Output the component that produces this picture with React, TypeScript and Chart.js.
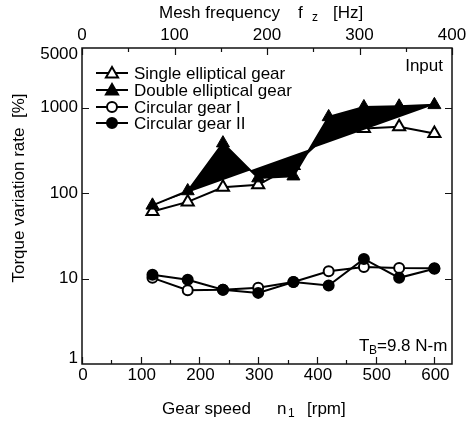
import React, { useEffect, useRef } from "react";
import { Chart, registerables } from "chart.js";

Chart.register(...registerables);

const gearSpeed = [120, 180, 240, 300, 360, 420, 480, 540, 600];
const singleElliptical = [61, 79, 117, 125, 210, 500, 570, 600, 500];
const doubleElliptical = [72, 106, 385, 150, 158, 780, 1020, 1040, 1080];
const circularI = [10.2, 7.3, 7.4, 7.8, 9.1, 12.2, 13.7, 13.3, 13.2];
const circularII = [11.1, 9.7, 7.4, 6.8, 9.1, 8.3, 17, 10.2, 13.0];

const seriesNames = [
  "Single elliptical gear",
  "Double elliptical gear",
  "Circular gear I",
  "Circular gear II",
];

const yTickValues = [1, 10, 100, 1000, 5000];
const yInnerTickValues = [10, 100, 1000];
const xTickValues = [0, 100, 200, 300, 400, 500, 600];
const xMinorTickValues = [50, 150, 250, 350, 450, 550];
const topTickValues = [0, 100, 200, 300, 400];
const topMinorTickValues = [50, 150, 250, 350];

const FONT = '"Liberation Sans", Arial, sans-serif';

function drawTriangle(ctx: CanvasRenderingContext2D, x: number, y: number, r: number, filled: boolean) {
  const s = Math.sin(Math.PI / 3) * r;
  ctx.beginPath();
  ctx.moveTo(x, y - r);
  ctx.lineTo(x - s, y + r / 2);
  ctx.lineTo(x + s, y + r / 2);
  ctx.closePath();
  ctx.fillStyle = filled ? "#000" : "#fff";
  ctx.fill();
  ctx.lineWidth = 2;
  ctx.strokeStyle = "#000";
  ctx.stroke();
}

function drawCircle(ctx: CanvasRenderingContext2D, x: number, y: number, r: number, filled: boolean) {
  ctx.beginPath();
  ctx.arc(x, y, r, 0, Math.PI * 2);
  ctx.fillStyle = filled ? "#000" : "#fff";
  ctx.fill();
  ctx.lineWidth = 2;
  ctx.strokeStyle = "#000";
  ctx.stroke();
}

const decorPlugin = {
  id: "decor",
  afterDraw(chart: any) {
    const ctx: CanvasRenderingContext2D = chart.ctx;
    const { left, right, top, bottom } = chart.chartArea;
    const xs = chart.scales.x;
    const xt = chart.scales.x2;
    const ys = chart.scales.y;
    ctx.save();
    ctx.strokeStyle = "#111";
    ctx.lineWidth = 1.5;
    ctx.strokeRect(left, top, right - left, bottom - top);

    ctx.lineWidth = 1.2;
    ctx.beginPath();
    const major = 7;
    const minor = 4;
    xTickValues.forEach((v) => {
      const px = Math.round(xs.getPixelForValue(v)) + 0.5;
      ctx.moveTo(px, bottom);
      ctx.lineTo(px, bottom - major);
    });
    xMinorTickValues.forEach((v) => {
      const px = Math.round(xs.getPixelForValue(v)) + 0.5;
      ctx.moveTo(px, bottom);
      ctx.lineTo(px, bottom - minor);
    });
    topTickValues.forEach((v) => {
      const px = Math.round(xt.getPixelForValue(v)) + 0.5;
      ctx.moveTo(px, top);
      ctx.lineTo(px, top + major);
    });
    topMinorTickValues.forEach((v) => {
      const px = Math.round(xt.getPixelForValue(v)) + 0.5;
      ctx.moveTo(px, top);
      ctx.lineTo(px, top + minor);
    });
    yInnerTickValues.forEach((v) => {
      const py = Math.round(ys.getPixelForValue(v)) + 0.5;
      ctx.moveTo(left, py);
      ctx.lineTo(left + major, py);
      ctx.moveTo(right, py);
      ctx.lineTo(right - major, py);
    });
    ctx.stroke();

    ctx.fillStyle = "#000";
    ctx.font = `17px ${FONT}`;
    ctx.textAlign = "center";
    ctx.textBaseline = "middle";
    xTickValues.forEach((v) => {
      ctx.fillText(String(v), xs.getPixelForValue(v) + 1, bottom + 11);
    });
    topTickValues.forEach((v) => {
      ctx.fillText(String(v), xt.getPixelForValue(v), top - 13);
    });
    ctx.textAlign = "right";
    yTickValues.forEach((v) => {
      let py = ys.getPixelForValue(v);
      if (v === 1) py -= 6;
      if (v === 5000) py += 6;
      ctx.fillText(String(v), left - 4, py);
    });

    ctx.textAlign = "left";
    ctx.textBaseline = "alphabetic";
    ctx.font = `17px ${FONT}`;
    ctx.fillText("Mesh frequency", 159, 18);
    ctx.fillText("f", 298, 18);
    ctx.font = `12px ${FONT}`;
    ctx.fillText("z", 312, 21);
    ctx.font = `17px ${FONT}`;
    ctx.fillText("[Hz]", 333, 18);

    ctx.fillText("Gear speed", 162, 414);
    ctx.fillText("n", 277, 414);
    ctx.font = `12px ${FONT}`;
    ctx.fillText("1", 288, 417);
    ctx.font = `17px ${FONT}`;
    ctx.fillText("[rpm]", 307, 414);

    ctx.save();
    ctx.translate(24, 188);
    ctx.rotate(-Math.PI / 2);
    ctx.textAlign = "center";
    ctx.fillText("Torque variation rate  [%]", 0, 0);
    ctx.restore();

    ctx.textAlign = "right";
    ctx.fillText("Input", 443, 71);
    ctx.textAlign = "left";
    ctx.fillText("T", 359, 351);
    ctx.font = `12px ${FONT}`;
    ctx.fillText("B", 369, 354);
    ctx.font = `17px ${FONT}`;
    ctx.fillText("=9.8 N-m", 377, 351);

    const rows = [73, 90, 107, 123];
    rows.forEach((ry, i) => {
      ctx.beginPath();
      ctx.moveTo(96, ry);
      ctx.lineTo(128, ry);
      ctx.lineWidth = 2;
      ctx.strokeStyle = "#000";
      ctx.stroke();
      if (i === 0) drawTriangle(ctx, 112, ry + 1, 7, false);
      if (i === 1) drawTriangle(ctx, 112, ry + 1, 7, true);
      if (i === 2) drawCircle(ctx, 112, ry, 5, false);
      if (i === 3) drawCircle(ctx, 112, ry, 5, true);
      ctx.fillStyle = "#000";
      ctx.font = `17px ${FONT}`;
      ctx.textBaseline = "middle";
      ctx.fillText(seriesNames[i], 134, ry + 1);
    });
    ctx.restore();
  },
};

function pts(ys: number[]) {
  return gearSpeed.map((x, i) => ({ x, y: ys[i] }));
}

export default function App() {
  const ref = useRef<HTMLCanvasElement | null>(null);
  useEffect(() => {
    if (!ref.current) return;
    const chart = new Chart(ref.current, {
      type: "line",
      data: {
        datasets: [
          {
            label: seriesNames[1],
            data: pts(doubleElliptical),
            order: 0,
            borderColor: "#000",
            borderWidth: 2,
            backgroundColor: "#000",
            fill: "shape",
            pointStyle: "triangle",
            pointRadius: 7.5,
            pointBackgroundColor: "#000",
            pointBorderColor: "#000",
            pointBorderWidth: 1,
            tension: 0,
          },
          {
            label: seriesNames[0],
            data: pts(singleElliptical),
            order: 1,
            borderColor: "#000",
            borderWidth: 2,
            fill: false,
            pointStyle: "triangle",
            pointRadius: 7,
            pointBackgroundColor: "#fff",
            pointBorderColor: "#000",
            pointBorderWidth: 2,
            tension: 0,
          },
          {
            label: seriesNames[2],
            data: pts(circularI),
            order: 3,
            borderColor: "#000",
            borderWidth: 2,
            fill: false,
            pointStyle: "circle",
            pointRadius: 5,
            pointBackgroundColor: "#fff",
            pointBorderColor: "#000",
            pointBorderWidth: 2,
            tension: 0,
          },
          {
            label: seriesNames[3],
            data: pts(circularII),
            order: 2,
            borderColor: "#000",
            borderWidth: 2,
            fill: false,
            pointStyle: "circle",
            pointRadius: 5,
            pointBackgroundColor: "#000",
            pointBorderColor: "#000",
            pointBorderWidth: 2,
            tension: 0,
          },
        ],
      },
      options: {
        animation: false,
        responsive: false,
        maintainAspectRatio: false,
        layout: { padding: { left: 82, right: 18, top: 48, bottom: 59 } },
        plugins: {
          legend: { display: false },
          tooltip: { enabled: false },
          filler: { drawTime: "beforeDatasetDraw" },
        },
        scales: {
          x: { type: "linear", min: 0, max: 630, display: false },
          x2: { type: "linear", position: "top", min: 0, max: 400, display: false },
          y: { type: "logarithmic", min: 1, max: 5000, display: false },
        },
      },
      plugins: [decorPlugin],
    } as any);
    return () => chart.destroy();
  }, []);
  return (
    <div style={{ position: "fixed", left: 0, top: 0, width: 470, height: 423, background: "#fff" }}>
      <canvas ref={ref} width={470} height={423} style={{ width: 470, height: 423 }} />
    </div>
  );
}
